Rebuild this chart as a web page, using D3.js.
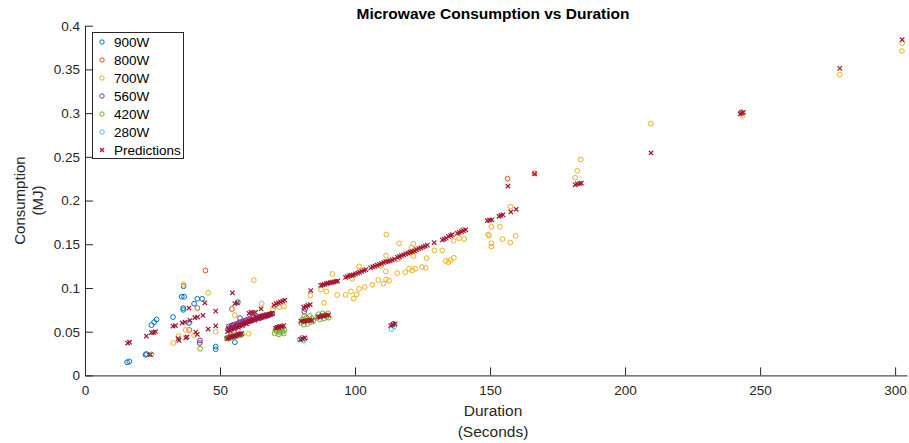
<!DOCTYPE html>
<html>
<head>
<meta charset="utf-8">
<script src="https://cdn.jsdelivr.net/npm/d3@7"></script>
<style>
  body { margin: 0; background: #fff; }
  svg { font-family: "Liberation Sans", Arial, Helvetica, sans-serif; }
</style>
</head>
<body>
<svg id="chart" width="909" height="443"></svg>
<script>
// Series names, in drawing order.
const seriesNames = ["900W", "800W", "700W", "560W", "420W", "280W", "Predictions"];

// [duration (s), consumption (MJ)].
const w900 = [[15.6,0.015],[16.4,0.016],[22.4,0.0235],[22.7,0.0245],[24.6,0.0575],[25.6,0.061],[26.5,0.064],
  [32.6,0.0667],[35.8,0.09],[36.7,0.09],[36.5,0.102],[36.4,0.077],[36.4,0.075],[38.5,0.06],[40.4,0.082],
  [41.6,0.0876],[43.4,0.0876],[48.4,0.033],[48.4,0.030],[55.5,0.038],[56.6,0.0838],[114.2,0.059]];

const w800 = [[44.6,0.12],[41.6,0.077],[38.6,0.052],[54.4,0.076],[156.5,0.225],[166.5,0.231],[243,0.301]];

const w700 = [[36.5,0.104],[45.6,0.0945],[34.6,0.045],[32.7,0.037],[37.3,0.052],[40.4,0.046],[48.4,0.05],
  [55.5,0.069],[60.5,0.0476],[62.5,0.109],[65.4,0.082],[69.6,0.0754],[70.2,0.079],[71.9,0.078],[73.7,0.079],
  [83.4,0.0914],[88.5,0.083],[87.4,0.098],[89.4,0.096],[91.6,0.116],[93.4,0.092],[96.5,0.092],[98.5,0.096],
  [99.5,0.0878],[100.6,0.0926],[101.5,0.099],[103.6,0.101],[101.5,0.1246],[99,0.1105],[106.4,0.1036],
  [108.6,0.109],[110.5,0.105],[111.5,0.1097],[112.6,0.1083],[111.5,0.137],[109.5,0.125],[115.6,0.117],
  [116.3,0.151],[111.6,0.161],[111.4,0.119],[118.6,0.118],[120,0.122],[121.2,0.12],[122.3,0.122],
  [124.8,0.124],[126.2,0.123],[126.5,0.1342],[121.6,0.1505],[120.9,0.146],[122.2,0.143],[120.4,0.141],
  [121.6,0.1365],[116,0.133],[129.4,0.143],[132.3,0.143],[133.6,0.131],[134.6,0.1295],[135.4,0.132],
  [136.6,0.1345],[136.5,0.154],[138.5,0.157],[140.4,0.156],[139.7,0.1665],[149.3,0.161],[150.5,0.17],
  [153.6,0.17],[149.6,0.1596],[154.6,0.156],[159.5,0.1596],[157.5,0.152],[150.5,0.151],[150.5,0.1474],
  [157.5,0.193],[181.5,0.226],[182.3,0.234],[183.6,0.247],[209.5,0.288],[243.5,0.297],[279.5,0.344],
  [302.6,0.38],[302.5,0.371]];

const w560 = [[42.6,0.04],[42.5,0.037],[57.4,0.0655],[81.5,0.076],[81.2,0.073],
  [53,0.053],[53.2,0.056],[53.6,0.054],[54,0.055],[54.3,0.057],[54.7,0.055],[55,0.058],[55.4,0.056],
  [55.9,0.057],[56.1,0.059],[56.5,0.058],[56.9,0.06],[57.3,0.058],[57.7,0.061],[58.1,0.059],[58.6,0.062],
  [59,0.06],[59.5,0.063],[59.9,0.061],[60.3,0.064],[60.8,0.062],[61.2,0.065],[61.7,0.063],[62.3,0.066],
  [62.8,0.064],[63.4,0.066],[63.9,0.065],[64.5,0.067],[65.1,0.066],[65.6,0.068],[66.2,0.067],[66.8,0.069],
  [67.4,0.068],[68.1,0.069],[68.7,0.07],[69.4,0.0705]];

const w420 = [[24.6,0.024],[42.6,0.0305],
  [52.5,0.043],[53,0.042],[53.5,0.044],[54,0.043],[54.5,0.045],[55,0.044],[55.6,0.046],[56.1,0.045],
  [56.6,0.046],[57.1,0.047],[57.6,0.046],[58.1,0.047],
  [70.2,0.048],[70.5,0.052],[71,0.05],[71.3,0.054],[71.8,0.047],[72,0.051],[72.4,0.049],[72.8,0.053],
  [73.2,0.05],[73.6,0.048],[73.8,0.052],[71.5,0.055],
  [80,0.06],[80.5,0.064],[81,0.058],[81.5,0.062],[82,0.066],[82.4,0.059],[82.8,0.063],[83.2,0.068],
  [83.6,0.061],[84,0.065],[84.5,0.062],[81.2,0.068],
  [86,0.066],[86.5,0.07],[87,0.064],[87.5,0.068],[88,0.071],[88.5,0.065],[89,0.069],[89.5,0.067],
  [90,0.071],[90.3,0.066]];

const w280 = [[79.5,0.041],[80.3,0.043],[81,0.04],[81.6,0.042],[113.5,0.053],[114.5,0.056]];

const predictions = [[15.8,0.037],[16.5,0.038],[22.7,0.045],[24.6,0.049],[25.4,0.049],[26.1,0.05],
  [24.2,0.0237],[32.6,0.0564],[33.5,0.057],[36,0.06],[37,0.061],[38.9,0.063],[40.7,0.066],[41.7,0.0667],
  [43.7,0.0686],[38.5,0.077],[41,0.0495],[41.6,0.047],[34.8,0.04],[34.5,0.042],[37.3,0.043],[37.8,0.044],
  [54.6,0.0945],[56.4,0.083],[55.5,0.082],[48.4,0.0735],[48.4,0.0567],[45.6,0.053],[44.4,0.083],
  [52.8,0.05],[53.3,0.052],[53.8,0.051],[54.3,0.053],[54.8,0.054],[55.3,0.053],[55.8,0.055],[56.3,0.056],
  [56.8,0.055],[57.3,0.057],[57.8,0.058],[58.3,0.057],[58.8,0.059],[59.3,0.06],[59.8,0.059],[60.3,0.061],
  [60.8,0.062],[61.3,0.062],[61.8,0.063],[62.3,0.064],[62.8,0.063],[63.3,0.065],[63.8,0.066],[64.3,0.065],
  [64.8,0.066],[65.3,0.067],[65.8,0.068],[66.3,0.067],[66.8,0.068],[67.3,0.069],[67.8,0.069],[68.3,0.07],
  [68.8,0.07],[69.3,0.071],
  [52.6,0.042],[53.2,0.043],[53.8,0.044],[54.4,0.044],[55,0.045],[55.6,0.045],[56.2,0.046],[56.8,0.047],
  [57.4,0.047],[58,0.048],
  [60.7,0.071],[61.5,0.072],[62.3,0.0715],[63.1,0.072],[65.2,0.076],
  [70,0.0805],[70.8,0.082],[71.6,0.083],[72.4,0.084],[73.2,0.085],[74,0.086],
  [70.6,0.054],[71.2,0.055],[71.8,0.055],[72.4,0.056],[73,0.056],[73.6,0.057],
  [80,0.062],[80.8,0.062],[81.6,0.062],[82.4,0.063],[83.2,0.063],[84,0.063],
  [86.2,0.067],[87,0.067],[87.8,0.068],[88.6,0.068],[89.4,0.069],[90.2,0.069],
  [81,0.078],[81.8,0.079],[82.6,0.08],[83.4,0.081],[83.6,0.097],
  [79.8,0.041],[80.6,0.042],[81.4,0.043],[113.2,0.057],[114,0.058],[114.8,0.059],
  [87.3,0.103],[88,0.1035],[88.7,0.104],[89.4,0.105],[90,0.1055],[90.8,0.106],[91.5,0.1065],[92.2,0.107],
  [93,0.1075],[93.6,0.108],
  [96.5,0.112],[97.2,0.113],[98,0.114],[98.7,0.1145],[99.4,0.115],[100.2,0.116],[101,0.117],[101.7,0.118],
  [102.5,0.119],[103.3,0.12],[104,0.121],
  [105.8,0.123],[106.6,0.124],[107.4,0.125],[108.2,0.126],[109,0.127],[109.8,0.128],[110.6,0.129],
  [111.4,0.13],[112.2,0.1305],[113,0.131],[113.8,0.132],
  [114.6,0.133],[115.7,0.135],[116.4,0.136],[117.2,0.137],[118,0.138],[118.8,0.139],[119.6,0.14],
  [120.4,0.141],[121.2,0.1415],[122,0.1425],[122.8,0.144],[123.6,0.145],[124.4,0.146],[125.2,0.147],
  [126,0.148],[126.8,0.149],
  [129.3,0.152],[132.3,0.155],[133,0.156],[133.8,0.157],[134.6,0.159],[135.4,0.16],[136,0.161],
  [137.9,0.1625],[138.6,0.1635],[139.4,0.1645],[140.2,0.1655],[141,0.1665],
  [149,0.177],[149.8,0.1775],[150.7,0.178],[153.3,0.182],[154,0.183],[154.8,0.1836],[157.7,0.187],
  [159.7,0.19],[156.6,0.2164],[166.5,0.2304],[181.5,0.218],[182.3,0.219],[183.2,0.2195],[183.8,0.22],
  [209.6,0.2545],[242.6,0.299],[243.2,0.3],[243.8,0.301],[279.5,0.3512],[302.6,0.384]];

const xTicks = [0, 50, 100, 150, 200, 250, 300];
const yTicks = [0, 0.05, 0.1, 0.15, 0.2, 0.25, 0.3, 0.35, 0.4];

const seriesData = [w900, w800, w700, w560, w420, w280, predictions];
const seriesColors = ["#0072BD", "#D95319", "#EDB120", "#7E2F8E", "#77AC30", "#4DBEEE", "#A2142F"];

const svg = d3.select("#chart");
const axisColor = "#262626";

// Plot box (MATLAB axes position).
const plotLeft = 85, plotRight = 907, plotTop = 25.7, plotBottom = 375.4;

const x = d3.scaleLinear().domain([0, 304.4]).range([plotLeft, plotRight]);
const y = d3.scaleLinear().domain([0, 0.4]).range([plotBottom, plotTop]);

// Axes with inward ticks.
const xAxis = svg.append("g")
  .attr("transform", "translate(0," + plotBottom + ")")
  .call(d3.axisBottom(x).tickValues(xTicks).tickSizeInner(-8).tickSizeOuter(0).tickPadding(10)
    .tickFormat(d3.format("d")));

const yAxis = svg.append("g")
  .attr("transform", "translate(" + plotLeft + ",0)")
  .call(d3.axisLeft(y).tickValues(yTicks).tickSizeInner(-8).tickSizeOuter(0).tickPadding(5)
    .tickFormat(function(d) { return String(+d.toFixed(2)); }));

[xAxis, yAxis].forEach(function(g) {
  g.select(".domain").attr("stroke", axisColor).attr("stroke-width", 1);
  g.selectAll(".tick line").attr("stroke", axisColor);
  g.selectAll(".tick text").attr("fill", axisColor).style("font-size", "13.5px");
});

// Markers.
function drawCircles(g, pts, color) {
  g.selectAll("circle").data(pts).join("circle")
    .attr("cx", function(d) { return x(d[0]); })
    .attr("cy", function(d) { return y(d[1]); })
    .attr("r", 2.4)
    .attr("fill", "none")
    .attr("stroke", color)
    .attr("stroke-width", 1);
}

function crossPath(cx, cy, s) {
  return "M" + (cx - s) + "," + (cy - s) + "L" + (cx + s) + "," + (cy + s) +
    "M" + (cx - s) + "," + (cy + s) + "L" + (cx + s) + "," + (cy - s);
}

const plot = svg.append("g");
seriesData.forEach(function(pts, i) {
  let g = plot.append("g");
  if (i < 6) {
    drawCircles(g, pts, seriesColors[i]);
  } else {
    g.selectAll("path").data(pts).join("path")
      .attr("d", function(d) { return crossPath(x(d[0]), y(d[1]), 2.2); })
      .attr("stroke", seriesColors[i])
      .attr("stroke-width", 1.2)
      .attr("fill", "none");
  }
});

// Title and axis labels.
const midX = (plotLeft + plotRight) / 2;
svg.append("text")
  .attr("x", midX - 3).attr("y", 19)
  .attr("text-anchor", "middle")
  .style("font-size", "15.5px").style("font-weight", "bold")
  .attr("fill", "#000")
  .text("Microwave Consumption vs Duration");

svg.append("text")
  .attr("text-anchor", "middle").attr("fill", axisColor).style("font-size", "15.5px")
  .selectAll("tspan").data(["Duration", "(Seconds)"]).join("tspan")
  .attr("x", midX - 3)
  .attr("y", function(d, i) { return 416 + i * 21; })
  .text(function(d) { return d; });

svg.append("text")
  .attr("transform", "translate(0," + ((plotTop + plotBottom) / 2) + ") rotate(-90)")
  .attr("text-anchor", "middle").attr("fill", axisColor).style("font-size", "15px")
  .selectAll("tspan").data(["Consumption", "(MJ)"]).join("tspan")
  .attr("x", 0)
  .attr("y", function(d, i) { return 25 + i * 18; })
  .text(function(d) { return d; });

// Legend.
const legend = svg.append("g");
legend.append("rect")
  .attr("x", 92.5).attr("y", 32.5).attr("width", 91).attr("height", 126)
  .attr("fill", "#fff").attr("stroke", axisColor).attr("stroke-width", 1);

seriesNames.forEach(function(name, i) {
  let cy = 42 + i * 18;
  if (i < 6) {
    legend.append("circle")
      .attr("cx", 102).attr("cy", cy).attr("r", 2.2)
      .attr("fill", "none").attr("stroke", seriesColors[i]).attr("stroke-width", 1);
  } else {
    legend.append("path")
      .attr("d", crossPath(102, cy, 2))
      .attr("stroke", seriesColors[i]).attr("stroke-width", 1.2);
  }
  legend.append("text")
    .attr("x", 114).attr("y", cy + 5)
    .attr("fill", "#000").style("font-size", "13.5px")
    .text(name);
});
</script>
</body>
</html>
